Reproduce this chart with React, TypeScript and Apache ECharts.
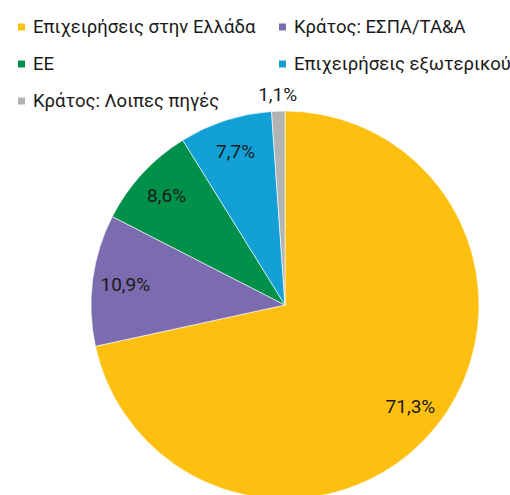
import React, { useEffect, useRef } from "react";
import * as echarts from "echarts";

const categories = [
  "Επιχειρήσεις στην Ελλάδα",
  "Κράτος: ΕΣΠΑ/ΤΑ&Α",
  "ΕΕ",
  "Επιχειρήσεις εξωτερικού",
  "Κράτος: Λοιπες πηγές",
];
const values = [71.3, 10.9, 8.6, 7.7, 1.1];
const colors = ["#FDC010", "#7B6BAF", "#00904A", "#12A0D7", "#B3B3B3"];
const legendLeft = [categories[0], categories[2], categories[4]];
const legendRight = [categories[1], categories[3]];

const fmt = (v: number) => v.toFixed(1).replace(".", ",") + "%";

export default function App() {
  const ref = useRef<HTMLDivElement>(null);
  useEffect(() => {
    if (!ref.current) return;
    const chart = echarts.init(ref.current, undefined, { renderer: "svg" });
    const font = "Roboto, 'DejaVu Sans', sans-serif";
    const center = [285, 305];
    const legendCommon = {
      orient: "vertical" as const,
      top: 17,
      padding: 0,
      itemWidth: 9,
      itemHeight: 9,
      itemGap: 17,
      icon: "rect",
      selectedMode: false,
      textStyle: {
        fontFamily: font,
        fontSize: 18.5,
        lineHeight: 20,
        color: "#1a1a1a",
        padding: [0, 0, 0, 2],
      },
    };
    const labelStyle = {
      fontFamily: font,
      fontSize: 19,
      color: "#1a1a1a",
    };
    chart.setOption({
      animation: false,
      color: colors,
      legend: [
        { ...legendCommon, left: 16, data: legendLeft },
        { ...legendCommon, left: 277, data: legendRight },
      ],
      series: [
        {
          type: "pie",
          center,
          radius: [0, 194],
          startAngle: 90,
          clockwise: true,
          silent: true,
          label: { show: false },
          labelLine: { show: false },
          itemStyle: { borderColor: "#ffffff", borderWidth: 0.6 },
          emphasis: { disabled: true },
          data: categories.map((n, i) => ({ name: n, value: values[i] })),
        },
        {
          type: "pie",
          center,
          radius: [150, 166],
          startAngle: 90,
          clockwise: true,
          silent: true,
          itemStyle: { color: "transparent" },
          labelLine: { show: false },
          emphasis: { disabled: true },
          label: {
            show: true,
            position: "inside",
            ...labelStyle,
            formatter: (p: any) => fmt(p.value),
          },
          data: categories.map((n, i) => ({
            name: n,
            value: values[i],
            label: { show: i < 4 },
          })),
        },
        {
          type: "pie",
          center,
          radius: [200, 216],
          startAngle: 90,
          clockwise: true,
          silent: true,
          itemStyle: { color: "transparent" },
          labelLine: { show: false },
          emphasis: { disabled: true },
          label: {
            show: true,
            position: "inside",
            ...labelStyle,
            formatter: (p: any) => fmt(p.value),
          },
          data: categories.map((n, i) => ({
            name: n,
            value: values[i],
            label: { show: i === 4 },
          })),
        },
      ],
    });
    return () => chart.dispose();
  }, []);
  return (
    <div
      ref={ref}
      style={{ position: "fixed", left: 0, top: 0, width: 510, height: 495, background: "#fff" }}
    />
  );
}
